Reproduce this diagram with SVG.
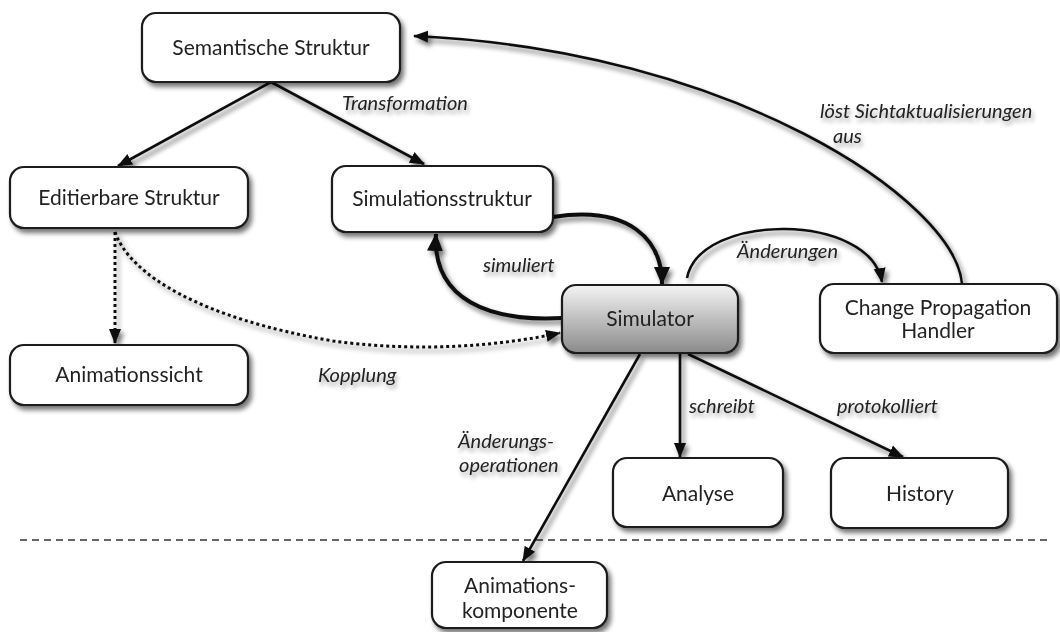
<svg xmlns="http://www.w3.org/2000/svg" width="1060" height="632" viewBox="0 0 1060 632">
  <defs>
    <style>
      .box { fill: #ffffff; stroke: #1a1a1a; stroke-width: 2.2; }
      .node text { font-family: Lato, "Open Sans", sans-serif; font-size: 21px; fill: #222; text-anchor: middle; }
      .edge { fill: none; stroke: #111; stroke-width: 2.6; }
      .thick { stroke-width: 4; }
      .dotted { stroke-dasharray: 3 3; stroke-width: 3; }
      .lbl { font-family: Lato, "Open Sans", sans-serif; font-size: 20px; font-style: italic; fill: #222; }
    </style>
    <filter id="shadow" x="-20%" y="-20%" width="140%" height="150%">
      <feGaussianBlur in="SourceAlpha" stdDeviation="2.5"/>
      <feOffset dx="3" dy="4" result="b"/>
      <feComponentTransfer><feFuncA type="linear" slope="0.55"/></feComponentTransfer>
      <feMerge><feMergeNode/><feMergeNode in="SourceGraphic"/></feMerge>
    </filter>
    <filter id="lshadow" x="-10%" y="-30%" width="120%" height="180%">
      <feGaussianBlur in="SourceAlpha" stdDeviation="2"/>
      <feOffset dx="2" dy="4"/>
      <feComponentTransfer><feFuncA type="linear" slope="0.35"/></feComponentTransfer>
      <feMerge><feMergeNode/><feMergeNode in="SourceGraphic"/></feMerge>
    </filter>
    <linearGradient id="simGrad" x1="0" y1="0" x2="0" y2="1">
      <stop offset="0" stop-color="#f4f4f4"/>
      <stop offset="1" stop-color="#8a8a8a"/>
    </linearGradient>
    <marker id="arrS" viewBox="0 0 15 14" refX="14" refY="7" markerWidth="15" markerHeight="14" markerUnits="userSpaceOnUse" orient="auto">
      <path d="M0,1 L15,7 L0,13 z" fill="#111"/>
    </marker>
    <marker id="arrL" viewBox="0 0 18 18" refX="17" refY="9" markerWidth="18" markerHeight="18" markerUnits="userSpaceOnUse" orient="auto">
      <path d="M0,1 L18,9 L0,17 z" fill="#111"/>
    </marker>
  </defs>

  <rect width="1060" height="632" fill="#ffffff"/>

  <!-- separator -->
  <line x1="20" y1="540" x2="1050" y2="540" stroke="#333" stroke-width="1.6" stroke-dasharray="7 5"/>

  <!-- connectors -->
  <g id="connectors" filter="url(#shadow)">
    <path class="edge" d="M271,82 L118,166" marker-end="url(#arrS)"/>
    <path class="edge" d="M271,82 L424,164" marker-end="url(#arrS)"/>
    <path class="edge" d="M962,284 C955,200 730,50 414,36" marker-end="url(#arrS)"/>
    <path class="edge thick" d="M553,217 C630,205 662,240 662,284" marker-end="url(#arrL)"/>
    <path class="edge thick" d="M562,318 C490,322 432,300 436,234" marker-end="url(#arrL)"/>
    <path class="edge" d="M687,278 C700,212 870,212 882,282" marker-end="url(#arrS)"/>
    <path class="edge dotted" d="M115,232 L115,343" marker-end="url(#arrS)"/>
    <path class="edge dotted" d="M115,232 C130,275 200,318 333,341 C400,350 480,350 560,333" marker-end="url(#arrS)"/>
    <path class="edge" d="M640,354 L523,561" marker-end="url(#arrS)"/>
    <path class="edge" d="M680,354 L680,457" marker-end="url(#arrS)"/>
    <path class="edge" d="M688,354 L903,457" marker-end="url(#arrS)"/>
  </g>

  <!-- connector labels -->
  <g id="labels" filter="url(#lshadow)">
    <text class="lbl" x="342" y="110">Transformation</text>
    <text class="lbl" x="820" y="118">löst Sichtaktualisierungen</text>
    <text class="lbl" x="833" y="143">aus</text>
    <text class="lbl" x="737" y="258">Änderungen</text>
    <text class="lbl" x="483" y="272">simuliert</text>
    <text class="lbl" x="318" y="382">Kopplung</text>
    <text class="lbl" x="458" y="448">Änderungs-</text>
    <text class="lbl" x="459" y="472">operationen</text>
    <text class="lbl" x="689" y="413">schreibt</text>
    <text class="lbl" x="837" y="413">protokolliert</text>
  </g>

  <!-- nodes -->
  <g id="semantische" class="node" filter="url(#shadow)">
    <rect class="box" x="142" y="13" width="258" height="69" rx="14"/>
    <text x="271" y="55">Semantische Struktur</text>
  </g>
  <g id="editierbare" class="node" filter="url(#shadow)">
    <rect class="box" x="10" y="167" width="238" height="61" rx="14"/>
    <text x="129" y="205">Editierbare Struktur</text>
  </g>
  <g id="simulationsstruktur" class="node" filter="url(#shadow)">
    <rect class="box" x="332" y="166" width="221" height="66" rx="14"/>
    <text x="442" y="206">Simulationsstruktur</text>
  </g>
  <g id="animationssicht" class="node" filter="url(#shadow)">
    <rect class="box" x="10" y="345" width="238" height="60" rx="14"/>
    <text x="129" y="382">Animationssicht</text>
  </g>
  <g id="simulator" class="node" filter="url(#shadow)">
    <rect class="box" x="562" y="285" width="176" height="68" rx="14" style="fill:url(#simGrad)"/>
    <text x="650" y="326">Simulator</text>
  </g>
  <g id="change-propagation" class="node" filter="url(#shadow)">
    <rect class="box" x="820" y="284" width="237" height="69" rx="14"/>
    <text x="938" y="315">Change Propagation</text>
    <text x="938" y="338">Handler</text>
  </g>
  <g id="analyse" class="node" filter="url(#shadow)">
    <rect class="box" x="613" y="458" width="170" height="69" rx="14"/>
    <text x="698" y="501">Analyse</text>
  </g>
  <g id="history" class="node" filter="url(#shadow)">
    <rect class="box" x="831" y="458" width="177" height="70" rx="14"/>
    <text x="920" y="501">History</text>
  </g>
  <g id="animationskomponente" class="node" filter="url(#shadow)">
    <rect class="box" x="432" y="562" width="175" height="66" rx="14"/>
    <text x="520" y="593">Animations-</text>
    <text x="520" y="618">komponente</text>
  </g>
</svg>
